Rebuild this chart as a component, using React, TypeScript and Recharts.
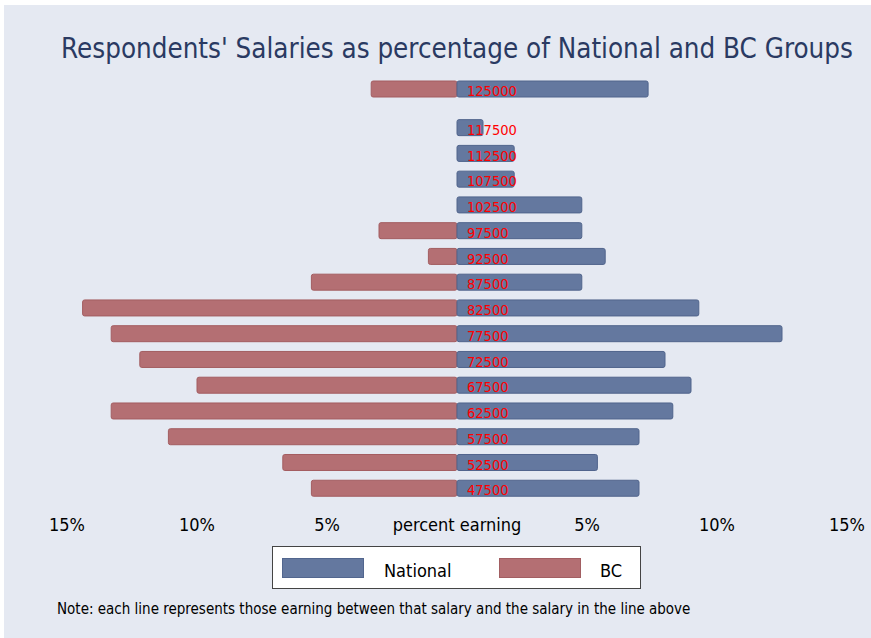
import React from "react";
import { BarChart, Bar, XAxis, YAxis, LabelList, Legend } from "recharts";

// salary band (lower bound), national %, BC %
const salaries = [47500, 52500, 57500, 62500, 67500, 72500, 77500, 82500, 87500, 92500, 97500, 102500, 107500, 112500, 117500, 125000];
const nationalPct = [7.0, 5.4, 7.0, 8.3, 9.0, 8.0, 12.5, 9.3, 4.8, 5.7, 4.8, 4.8, 2.2, 2.2, 1.0, 7.35];
const bcPct = [5.6, 6.7, 11.1, 13.3, 10.0, 12.2, 13.3, 14.4, 5.6, 1.1, 3.0, 0, 0, 0, 0, 3.3];
const xTicks = [-15, -10, -5, 0, 5, 10, 15];

const data = salaries.map((s, i) => ({
  salary: s,
  national: nationalPct[i],
  bc: -bcPct[i],
}));

const FONT = "'DejaVu Sans Condensed', 'DejaVu Sans', sans-serif";
const BLUE = "#64789f";
const RED = "#b46f73";

const LegendBox = () => (
  <div
    style={{
      width: 367,
      height: 41,
      background: "#fff",
      border: "1px solid #444",
      display: "flex",
      alignItems: "center",
      fontFamily: FONT,
      fontSize: 18,
      color: "#000",
    }}
  >
    <div style={{ width: 82, height: 20, background: BLUE, border: "1px solid #52668e", marginLeft: 9, boxSizing: "border-box" }} />
    <span style={{ marginLeft: 20, width: 115, paddingTop: 6 }}>National</span>
    <div style={{ width: 82, height: 20, background: RED, border: "1px solid #a25e62", boxSizing: "border-box" }} />
    <span style={{ marginLeft: 19, paddingTop: 6 }}>BC</span>
  </div>
);

export default function App() {
  return (
    <div style={{ position: "fixed", left: 0, top: 0, width: 871, height: 638, background: "#fff" }}>
      <div style={{ position: "absolute", left: 4, top: 5, right: 0, bottom: 0, background: "#e5e9f2" }} />
      <div
        style={{
          position: "absolute",
          left: 0,
          width: 914,
          top: 32,
          textAlign: "center",
          fontFamily: FONT,
          fontSize: 27.5,
          color: "#2a3a62",
          whiteSpace: "nowrap",
        }}
      >
        Respondents' Salaries as percentage of National and BC Groups
      </div>
      <div style={{ position: "absolute", left: 0, top: 0 }}>
        <BarChart
          width={871}
          height={638}
          data={data}
          layout="vertical"
          stackOffset="sign"
          margin={{ top: 76, right: 24, left: 67, bottom: 97 }}
        >
          <XAxis
            type="number"
            domain={[-15, 15]}
            ticks={xTicks}
            axisLine={false}
            tickLine={false}
            tickSize={15}
            height={40}
            interval={0}
            tick={{ fontSize: 18, fill: "#000", fontFamily: FONT }}
            tickFormatter={(v: number) => (v === 0 ? "percent earning" : `${Math.abs(v)}%`)}
          />
          <YAxis type="number" dataKey="salary" domain={[45000, 127500]} reversed hide width={0} />
          <Legend
            verticalAlign="middle"
            align="center"
            layout="horizontal"
            wrapperStyle={{ position: "absolute", left: 272, top: 546, width: 369 }}
            content={() => <LegendBox />}
          />
          <Bar dataKey="bc" stackId="a" barSize={16} fill={RED} stroke="#a35d61" strokeWidth={1} radius={2} isAnimationActive={false} name="BC" />
          <Bar dataKey="national" stackId="a" barSize={16} fill={BLUE} stroke="#50648c" strokeWidth={1} radius={2} isAnimationActive={false} name="National">
            <LabelList
              dataKey="salary"
              position="insideLeft"
              offset={10}
              dy={2}
              fill="#ff0000"
              style={{ fontSize: 14.5, fontFamily: FONT }}
            />
          </Bar>
        </BarChart>
      </div>
      <div
        style={{
          position: "absolute",
          left: 57,
          top: 600,
          fontFamily: FONT,
          fontSize: 15,
          color: "#000",
          whiteSpace: "nowrap",
        }}
      >
        Note: each line represents those earning between that salary and the salary in the line above
      </div>
    </div>
  );
}
